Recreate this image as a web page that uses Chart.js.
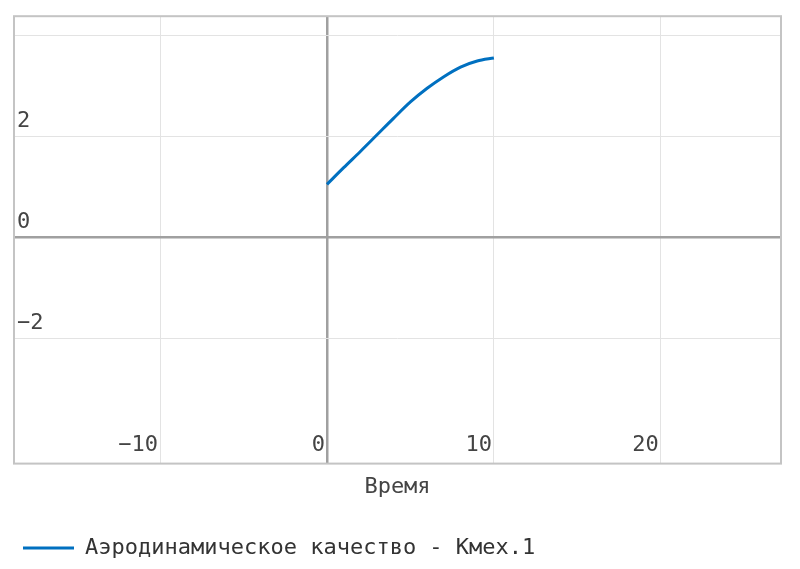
<!DOCTYPE html>
<html>
<head>
<meta charset="utf-8">
<script src="https://cdn.jsdelivr.net/npm/chart.js@4/dist/chart.umd.min.js"></script>
<style>
  html, body { margin: 0; padding: 0; background: #fff; }
  #wrap { width: 800px; height: 569px; }
</style>
</head>
<body>
<div id="wrap"><canvas id="myChart"></canvas></div>
<script>
// data
const times = [0, 1, 2, 3, 4, 5, 6, 7, 8, 9, 10];
const kmex = [1.05, 1.38, 1.70, 2.03, 2.36, 2.68, 2.95, 3.18, 3.37, 3.49, 3.55];
const xTicks = [-10, 0, 10, 20];
const yTicks = [-2, 0, 2, 4];
const yHidden = [4];
const seriesName = "Аэродинамическое качество - Кмех.1";
const xTitle = "Время";

const font = "'DejaVu Sans Mono', monospace";
const fontSize = 22;
const textColor = "#444";
const lineColor = "#0070c0";

// frame round the plot area
const frame = {
    id: "frame",
    afterDraw(chart) {
        const a = chart.chartArea;
        const ctx = chart.ctx;
        ctx.save();
        ctx.strokeStyle = "#c4c4c4";
        ctx.lineWidth = 2;
        ctx.strokeRect(a.left, a.top, a.right - a.left, a.bottom - a.top);
        ctx.restore();
    }
};

const gridColor = (c) => (c.tick && c.tick.value === 0 ? "#a0a0a0" : "#e3e3e3");
const gridWidth = (c) => (c.tick && c.tick.value === 0 ? 2.5 : 1);

new Chart(document.getElementById("myChart"), {
    type: "line",
    data: {
        datasets: [{
            label: seriesName,
            data: times.map((t, i) => ({ x: t, y: kmex[i] })),
            borderColor: lineColor,
            backgroundColor: lineColor,
            borderWidth: 3,
            pointRadius: 0,
            tension: 0.3,
            fill: false
        }]
    },
    options: {
        responsive: true,
        maintainAspectRatio: false,
        animation: false,
        layout: { autoPadding: false, padding: { left: 8, right: 19, top: 8, bottom: 0 } },
        plugins: {
            tooltip: { enabled: false },
            legend: {
                position: "bottom",
                align: "start",
                labels: {
                    font: { family: font, size: fontSize },
                    color: "#333",
                    boxWidth: 51,
                    boxHeight: 3,
                    padding: 15,
                    generateLabels: (chart) => chart.data.datasets.map((ds, i) => ({
                        text: ds.label,
                        fillStyle: ds.borderColor,
                        strokeStyle: ds.borderColor,
                        lineWidth: 0,
                        fontColor: "#333",
                        datasetIndex: i
                    }))
                }
            }
        },
        scales: {
            x: {
                type: "linear",
                min: -18.75,
                max: 27.2,
                afterBuildTicks: (s) => { s.ticks = xTicks.map(v => ({ value: v })); },
                border: { display: false },
                grid: { color: gridColor, lineWidth: gridWidth, drawTicks: false },
                ticks: {
                    mirror: true,
                    align: "end",
                    padding: 5,
                    labelOffset: -2,
                    maxRotation: 0,
                    font: { family: font, size: fontSize },
                    color: textColor,
                    callback: (v) => String(v).replace("-", "\u2212")
                },
                title: {
                    display: true,
                    text: xTitle,
                    font: { family: font, size: fontSize },
                    color: textColor,
                    padding: { top: 0, bottom: 22 }
                }
            },
            y: {
                type: "linear",
                min: -4.475,
                max: 4.376,
                afterBuildTicks: (s) => { s.ticks = yTicks.map(v => ({ value: v })); },
                border: { display: false },
                grid: { color: gridColor, lineWidth: gridWidth, drawTicks: false },
                ticks: {
                    mirror: true,
                    padding: 3,
                    labelOffset: -15,
                    font: { family: font, size: fontSize },
                    color: textColor,
                    callback: (v) => (yHidden.includes(v) ? "" : String(v).replace("-", "\u2212"))
                }
            }
        }
    },
    plugins: [frame]
});
</script>
</body>
</html>
